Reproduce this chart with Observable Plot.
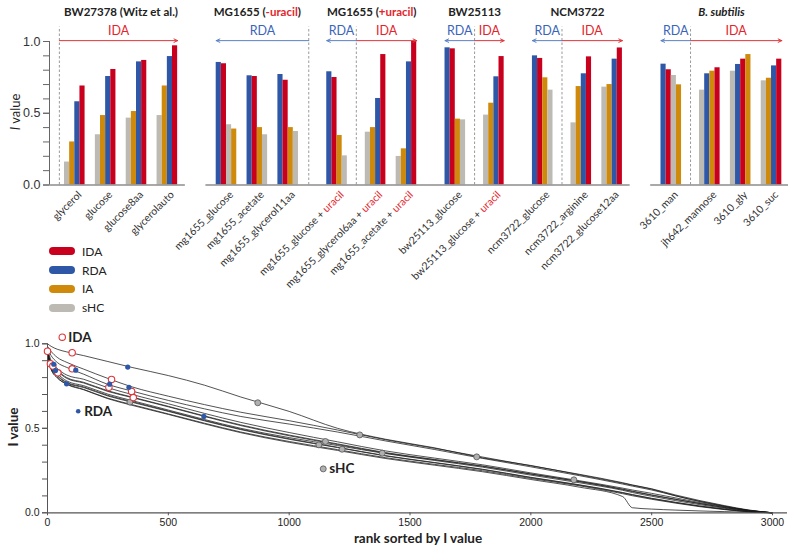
<!DOCTYPE html>
<html><head><meta charset="utf-8">
<script src="https://cdn.jsdelivr.net/npm/d3@7"></script>
<script src="https://cdn.jsdelivr.net/npm/@observablehq/plot@0.6"></script>
<style>
body{margin:0;background:#fff;width:788px;height:548px;position:relative;overflow:hidden;font-family:Lato,"Open Sans",sans-serif;color:#222}
#top,#bottom{position:absolute;left:0}
#top{top:0}
#bottom{top:330px}
.legend{position:absolute;left:49px;top:242px;font:12px Lato,sans-serif;color:#222}
.legend .item{display:flex;align-items:center;height:18.8px}
.legend .sw{width:26px;height:8px;border-radius:4px;margin-right:7px}
.rot{position:absolute;width:120px;text-align:center;transform:rotate(-90deg);white-space:nowrap}
.xt{position:absolute;white-space:nowrap;text-align:center}
</style></head>
<body>
<div id="top"></div>
<div id="bottom"></div>
<div class="legend" id="legend"></div>
<div class="rot" style="left:-45px;top:104px;font:13px Lato,sans-serif"><i>I</i> value</div>
<div class="rot" style="left:-47px;top:419px;font:bold 13.5px Lato,sans-serif">I value</div>
<div class="xt" style="left:318px;width:200px;top:530px;font:bold 13.5px Lato,sans-serif">rank sorted by I value</div>
<script>
// ---------------- TOP CHART DATA ----------------
const conditions = ["glycerol","glucose","glucose8aa","glycerolauto",
  "mg1655_glucose","mg1655_acetate","mg1655_glycerol11aa",
  "mg1655_glucose + uracil","mg1655_glycerol6aa + uracil","mg1655_acetate + uracil",
  "bw25113_glucose","bw25113_glucose + uracil",
  "ncm3722_glucose","ncm3722_arginine","ncm3722_glucose12aa",
  "3610_man","jh642_mannose","3610_gly","3610_suc"];
const strains = ["BW27378 (Witz et al.)","BW27378 (Witz et al.)","BW27378 (Witz et al.)","BW27378 (Witz et al.)",
  "MG1655 (-uracil)","MG1655 (-uracil)","MG1655 (-uracil)",
  "MG1655 (+uracil)","MG1655 (+uracil)","MG1655 (+uracil)",
  "BW25113","BW25113",
  "NCM3722","NCM3722","NCM3722",
  "B. subtilis","B. subtilis","B. subtilis","B. subtilis"];
const sides = ["IDA","IDA","IDA","IDA","RDA","RDA","RDA","RDA","IDA","IDA","RDA","IDA","RDA","IDA","IDA","RDA","IDA","IDA","IDA"];
const IDA = [0.69,0.805,0.868,0.97,0.845,0.756,0.73,0.749,0.909,1.0,0.949,0.895,0.882,0.893,0.955,0.803,0.817,0.877,0.877];
const RDA = [0.58,0.756,0.858,0.895,0.854,0.761,0.77,0.789,0.603,0.858,0.956,0.754,0.90,0.775,0.877,0.842,0.775,0.84,0.83];
const IA  = [0.30,0.484,0.512,0.69,0.39,0.40,0.40,0.345,0.40,0.252,0.459,0.57,0.747,0.686,0.70,0.698,0.793,0.909,0.744];
const sHC = [0.16,0.35,0.466,0.484,0.42,0.35,0.373,0.203,0.368,0.199,0.454,0.487,0.661,0.433,0.682,0.763,0.661,0.793,0.726];
const strainNames = ["BW27378 (Witz et al.)","MG1655 (-uracil)","MG1655 (+uracil)","BW25113","NCM3722","B. subtilis"];
const strainSubplot = [0,1,1,1,1,2];
const metrics = ["sHC","IA","RDA","IDA"];
const metricColors = {IDA:"#c8001e", RDA:"#2e57a8", IA:"#cf8a0b", sHC:"#bdbab4"};
const legendOrder = ["IDA","RDA","IA","sHC"];

// ---------------- BOTTOM CHART DATA ----------------
const ranks = [0,15,40,80,150,250,350,500,650,800,1000,1200,1400,1600,1800,2000,2200,2380,2420,2500,2600,2700,2800,2900,3000];
const curves = [
 [1.00,0.985,0.968,0.952,0.93,0.895,0.86,0.812,0.755,0.685,0.60,0.50,0.435,0.385,0.325,0.28,0.225,0.175,0.163,0.14,0.10,0.068,0.04,0.015,0],
 [0.985,0.955,0.92,0.89,0.85,0.795,0.745,0.69,0.64,0.595,0.545,0.49,0.432,0.382,0.33,0.278,0.228,0.178,0.165,0.142,0.105,0.072,0.043,0.017,0],
 [0.97,0.93,0.89,0.86,0.82,0.76,0.72,0.665,0.615,0.57,0.525,0.478,0.425,0.375,0.322,0.272,0.22,0.17,0.158,0.135,0.10,0.066,0.038,0.014,0],
 [0.97,0.90,0.855,0.815,0.79,0.74,0.70,0.645,0.588,0.535,0.475,0.42,0.366,0.324,0.284,0.236,0.19,0.146,0.135,0.115,0.088,0.06,0.036,0.015,0],
 [0.96,0.885,0.845,0.80,0.772,0.722,0.685,0.63,0.573,0.52,0.46,0.408,0.356,0.316,0.277,0.23,0.186,0.14,0.128,0.106,0.08,0.055,0.032,0.013,0],
 [0.965,0.88,0.84,0.795,0.768,0.718,0.682,0.627,0.57,0.516,0.456,0.404,0.353,0.314,0.275,0.229,0.184,0.138,0.126,0.104,0.079,0.054,0.031,0.012,0],
 [0.95,0.865,0.825,0.78,0.752,0.702,0.664,0.608,0.552,0.50,0.445,0.398,0.35,0.31,0.27,0.223,0.178,0.133,0.12,0.098,0.072,0.048,0.027,0.01,0],
 [0.955,0.86,0.815,0.772,0.745,0.695,0.658,0.603,0.547,0.495,0.438,0.388,0.338,0.298,0.258,0.21,0.166,0.12,0.108,0.086,0.062,0.04,0.022,0.008,0],
 [0.94,0.855,0.81,0.768,0.741,0.691,0.654,0.60,0.544,0.492,0.435,0.386,0.336,0.296,0.256,0.208,0.164,0.118,0.106,0.084,0.06,0.039,0.021,0.007,0],
 [0.945,0.85,0.80,0.763,0.73,0.678,0.64,0.585,0.53,0.478,0.422,0.374,0.326,0.287,0.249,0.203,0.16,0.113,0.101,0.08,0.057,0.036,0.019,0.006,0],
 [0.95,0.85,0.80,0.76,0.728,0.675,0.636,0.582,0.526,0.474,0.417,0.369,0.321,0.282,0.243,0.197,0.152,0.096,0.03,0.022,0.016,0.011,0.007,0.003,0]
];
const idaRank = [0,12,22,43,102,102,265,254,348,355];
const idaVal  = [0.956,0.882,0.868,0.828,0.947,0.852,0.789,0.743,0.718,0.682];
const rdaRank = [26,33,79,117,257,332,337,647];
const rdaVal  = [0.879,0.842,0.763,0.844,0.761,0.862,0.743,0.570];
const shcRank = [341,870,1123,1150,1219,1292,1385,1776,2178];
const shcVal  = [0.655,0.651,0.402,0.422,0.376,0.461,0.353,0.331,0.195];
const markLegend = [{label:"IDA",rank:61,v:1.039},{label:"RDA",rank:127,v:0.601},{label:"sHC",rank:1141,v:0.26}];

const RED_TEXT = "#e3242b", BLUE_TEXT = "#3a64b8";
const RED_LINE = "#e0353b", BLUE_LINE = "#5b80c6";

// ---------------- TOP LAYOUT (slot units) ----------------
const NB = metrics.length, SAME = 6, DIVIDER = 7.5, PANEL = 9.5, SUBPLOT = 11.5;
const starts = [];
let pos = 0;
conditions.forEach((c, i) => {
  if (i > 0) {
    const si = strainNames.indexOf(strains[i]), sp = strainNames.indexOf(strains[i-1]);
    if (strainSubplot[si] !== strainSubplot[sp]) pos += SUBPLOT;
    else if (si !== sp) pos += PANEL;
    else if (sides[i] !== sides[i-1]) pos += DIVIDER;
    else pos += SAME;
  }
  starts.push(pos);
});
const table = {IDA, RDA, IA, sHC};
const bars = [];
conditions.forEach((c, i) => {
  const vals = metrics.map(m => ({m, v: table[m][i]}));
  vals.sort((a, b) => sides[i] === "IDA" ? a.v - b.v : b.v - a.v);
  vals.forEach((d, k) => bars.push({cond: c, metric: d.m, value: d.v, x1: starts[i] + k, x2: starts[i] + k + 1}));
});
const labels = conditions.map((c, i) => ({text: c, x: starts[i] + NB / 2}));
const dividers = [], arrows = [], titles = [];
strainNames.forEach((s, si) => {
  const idx = conditions.map((c, i) => i).filter(i => strains[i] === s);
  const rda = idx.filter(i => sides[i] === "RDA"), ida = idx.filter(i => sides[i] === "IDA");
  const first = starts[idx[0]], last = starts[idx[idx.length - 1]] + NB;
  let div;
  if (rda.length && ida.length) div = (starts[rda[rda.length - 1]] + NB + starts[ida[0]]) / 2;
  else if (ida.length) div = first - 1;
  else div = last + 2;
  dividers.push({x: div});
  if (rda.length) arrows.push({side: "RDA", x1: div, x2: first});
  if (ida.length) arrows.push({side: "IDA", x1: div, x2: last});
  titles.push({name: s, x: (first + last) / 2});
});
const xDom = [-2.92, 140.8];
const segments = [0, 1, 2].map(sp => {
  const idx = conditions.map((c, i) => i).filter(i => strainSubplot[strainNames.indexOf(strains[i])] === sp);
  const a = starts[idx[0]], b = starts[idx[idx.length - 1]] + NB;
  return {x1: sp === 0 ? xDom[0] : a - 2, x2: sp === 2 ? xDom[1] : b + 1.5};
});

const ARROW_Y = 1.006, ARROW_LABEL_Y = 1.07, TITLE_Y = 1.2, DIV_TOP = 1.1;
const topPlot = Plot.plot({
  width: 788, height: 330,
  marginLeft: 49, marginRight: 0, marginTop: 41, marginBottom: 145.5,
  x: {type: "linear", domain: xDom, axis: null},
  y: {domain: [0, 1]},
  color: {domain: metrics, range: metrics.map(m => metricColors[m])},
  style: {fontFamily: "Lato, sans-serif", fontSize: "10px", color: "#222", background: "transparent", overflow: "visible"},
  marks: [
    Plot.ruleX(dividers, {x: "x", y1: 0, y2: DIV_TOP, stroke: "#9a9a9a", strokeDasharray: "2.5,2", strokeWidth: 1}),
    Plot.rectY(bars, {x1: "x1", x2: "x2", y1: 0, y2: "value", fill: "metric"}),
    Plot.ruleY(segments, {y: 0, x1: "x1", x2: "x2", stroke: "#8c8c8c", strokeWidth: 1.6}),
    Plot.ruleX([xDom[0]], {y1: 0, y2: 1, stroke: "#666", strokeWidth: 1}),
    Plot.axisY(d3.range(0, 11).map(i => i / 10), {tickSize: 6, tickFormat: () => "", label: null, stroke: "#666"}),
    Plot.axisY([0, 0.5, 1], {tickSize: 6, tickPadding: 3, tickFormat: d => d.toFixed(1), label: null, fontSize: 12.5, fontFamily: "Liberation Sans, Arial, sans-serif", stroke: "#666", fill: "#333"}),
    Plot.arrow(arrows.filter(d => d.side === "IDA"), {x1: "x1", x2: "x2", y1: ARROW_Y, y2: ARROW_Y, stroke: RED_LINE, strokeWidth: 1, headLength: 6, headAngle: 50}),
    Plot.arrow(arrows.filter(d => d.side === "RDA"), {x1: "x1", x2: "x2", y1: ARROW_Y, y2: ARROW_Y, stroke: BLUE_LINE, strokeWidth: 1, headLength: 6, headAngle: 50}),
    Plot.text(arrows.filter(d => d.side === "IDA"), {x: d => (d.x1 + d.x2) / 2, y: ARROW_LABEL_Y, text: "side", fill: RED_TEXT, fontSize: 12.5, fontFamily: "Lato, sans-serif"}),
    Plot.text(arrows.filter(d => d.side === "RDA"), {x: d => (d.x1 + d.x2) / 2, y: ARROW_LABEL_Y, text: "side", fill: BLUE_TEXT, fontSize: 12.5, fontFamily: "Lato, sans-serif"}),
    Plot.text(titles, {x: "x", y: TITLE_Y, text: "name", fontWeight: "bold", fontSize: 11.5, fill: "#222"}),
    Plot.text(labels, {x: "x", y: 0, text: "text", rotate: -45, textAnchor: "end", dx: 5, dy: 8, fontSize: 10.5, fill: "#333"})
  ]
});
function colorize(svg) {
  d3.select(svg).selectAll("text").each(function() {
    const el = d3.select(this);
    const t = this.textContent;
    let m;
    if ((m = t.match(/^(.*\+ )(uracil)$/))) {
      el.text(null);
      el.append("tspan").text(m[1]);
      el.append("tspan").attr("fill", RED_TEXT).text(m[2]);
    } else if ((m = t.match(/^(MG1655 \()([-+]uracil)(\))$/))) {
      el.text(null);
      el.append("tspan").text(m[1]);
      el.append("tspan").attr("fill", RED_TEXT).text(m[2]);
      el.append("tspan").text(m[3]);
    } else if (t === "B. subtilis") {
      el.attr("font-style", "italic");
    }
  });
}
colorize(topPlot);
document.getElementById("top").appendChild(topPlot);

// legend
const leg = d3.select("#legend");
legendOrder.forEach(m => {
  const it = leg.append("div").attr("class", "item");
  it.append("div").attr("class", "sw").style("background", metricColors[m]);
  it.append("span").text(m);
});

// ---------------- BOTTOM CHART ----------------
const lineData = [];
curves.forEach((vals, k) => vals.forEach((v, j) => lineData.push({id: k, rank: ranks[j], v})));
const idaPts = idaRank.map((r, i) => ({rank: r, v: idaVal[i]}));
const rdaPts = rdaRank.map((r, i) => ({rank: r, v: rdaVal[i]}));
const shcPts = shcRank.map((r, i) => ({rank: r, v: shcVal[i]}));
const botPlot = Plot.plot({
  width: 788, height: 218,
  marginLeft: 47, marginRight: 1, marginTop: 13.3, marginBottom: 35.7,
  x: {domain: [0, 3062]},
  y: {domain: [0, 1]},
  style: {fontFamily: "Liberation Sans, Arial, sans-serif", fontSize: "10.5px", color: "#222", background: "transparent", overflow: "visible"},
  marks: [
    Plot.line(lineData, {x: "rank", y: "v", z: "id", curve: "monotone-x", stroke: "#1a1a1a", strokeWidth: 0.75}),
    Plot.ruleY([0], {stroke: "#555", strokeWidth: 1.2}),
    Plot.ruleX([0], {stroke: "#555", strokeWidth: 1}),
    Plot.axisY(d3.range(0, 11).map(i => i / 10), {tickSize: 5, tickFormat: () => "", label: null, stroke: "#555"}),
    Plot.axisY([0, 0.5, 1], {tickSize: 5, tickPadding: 3, tickFormat: d => d.toFixed(1), label: null, stroke: "#555"}),
    Plot.axisX(d3.range(0, 3001, 500), {tickSize: 3, tickPadding: 3, label: null, tickFormat: d => String(d), stroke: "#555"}),
    Plot.dot(shcPts, {x: "rank", y: "v", r: 3, fill: "#b0b0b0", stroke: "#555", strokeWidth: 0.8}),
    Plot.dot(idaPts, {x: "rank", y: "v", r: 3.2, fill: "white", stroke: RED_LINE, strokeWidth: 1.1}),
    Plot.dot(rdaPts, {x: "rank", y: "v", r: 2.6, fill: "#2e57a8"}),
    Plot.dot(markLegend.filter(d => d.label === "IDA"), {x: "rank", y: "v", r: 3.2, fill: "white", stroke: RED_LINE, strokeWidth: 1.1}),
    Plot.dot(markLegend.filter(d => d.label === "RDA"), {x: "rank", y: "v", r: 2.3, fill: "#2e57a8"}),
    Plot.dot(markLegend.filter(d => d.label === "sHC"), {x: "rank", y: "v", r: 3, fill: "#b0b0b0", stroke: "#555", strokeWidth: 0.8}),
    Plot.text(markLegend, {x: "rank", y: "v", text: "label", textAnchor: "start", dx: 6, fontWeight: "bold", fontSize: 13.5, fontFamily: "Lato, sans-serif", fill: "#222"})
  ]
});
document.getElementById("bottom").appendChild(botPlot);
</script>
</body></html>
